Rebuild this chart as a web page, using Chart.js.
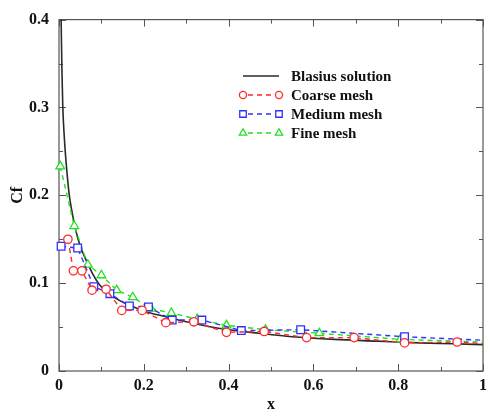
<!DOCTYPE html>
<html><head><meta charset="utf-8">
<script src="https://cdn.jsdelivr.net/npm/chart.js@4.4.0/dist/chart.umd.min.js"></script>
<style>html,body{margin:0;padding:0;background:#fff;}#wrap{width:492px;height:414px;}</style>
</head><body><div id="wrap"><canvas id="c" width="492" height="414"></canvas></div>
<script>
// ---- data ----
const blasiusX = [0.005, 0.007, 0.009, 0.012, 0.015, 0.019, 0.024, 0.030, 0.036, 0.045, 0.055, 0.067, 0.080, 0.096, 0.115, 0.140, 0.170, 0.210, 0.250, 0.300, 0.350, 0.400, 0.470, 0.550, 0.650, 0.750, 0.850, 0.930, 1.000];
const blasiusY = [0.400, 0.340, 0.300, 0.270, 0.248, 0.225, 0.201, 0.183, 0.168, 0.150, 0.136, 0.123, 0.110, 0.098, 0.089, 0.081, 0.074, 0.067, 0.062, 0.056, 0.051, 0.047, 0.043, 0.039, 0.036, 0.034, 0.032, 0.031, 0.030];

const coarseX = [0.021, 0.034, 0.054, 0.078, 0.111, 0.148, 0.196, 0.252, 0.318, 0.395, 0.484, 0.584, 0.696, 0.815, 0.939, 1.000];
const coarseY = [0.150, 0.114, 0.114, 0.092, 0.093, 0.069, 0.069, 0.055, 0.056, 0.044, 0.045, 0.038, 0.038, 0.032, 0.033, 0.031];

const mediumX = [0.005, 0.044, 0.082, 0.120, 0.166, 0.211, 0.267, 0.337, 0.430, 0.570, 0.815, 1.000];
const mediumY = [0.142, 0.140, 0.096, 0.088, 0.074, 0.073, 0.058, 0.058, 0.046, 0.047, 0.039, 0.035];

const fineX = [0.003, 0.036, 0.068, 0.100, 0.136, 0.174, 0.217, 0.265, 0.326, 0.395, 0.487, 0.614, 0.805, 1.000];
const fineY = [0.233, 0.165, 0.121, 0.109, 0.092, 0.084, 0.071, 0.066, 0.059, 0.052, 0.047, 0.043, 0.036, 0.033];

const seriesNames = ['Blasius solution', 'Coarse mesh', 'Medium mesh', 'Fine mesh'];
const xTickValues = [0, 0.2, 0.4, 0.6, 0.8, 1.0];
const xTickLabels = ['0', '0.2', '0.4', '0.6', '0.8', '1'];
const yTickValues = [0, 0.1, 0.2, 0.3, 0.4];
const yTickLabels = ['0', '0.1', '0.2', '0.3', '0.4'];
const xTitle = 'x';
const yTitle = 'Cf';

// ---- build ----
const pts = (xs, ys) => xs.map((x, i) => ({x: x, y: ys[i]}));
const FONT = 'Liberation Serif';
const hideLast = n => ctx => (ctx.dataIndex === n - 1 ? 0 : undefined);

function meshSet(label, xs, ys, color, style, radius) {
  const n = xs.length;
  return {
    label: label,
    data: pts(xs, ys),
    showLine: true,
    borderColor: color,
    borderWidth: 1.4,
    borderDash: [5, 4],
    pointStyle: style,
    pointRadius: ctx => (ctx.dataIndex === n - 1 ? 0 : radius),
    pointHoverRadius: 0,
    pointBorderColor: color,
    pointBackgroundColor: '#ffffff',
    pointBorderWidth: 1.3,
    tension: 0,
    clip: false,
    order: 1
  };
}

const datasets = [
  {
    label: seriesNames[0],
    data: pts(blasiusX, blasiusY),
    showLine: true,
    borderColor: '#2a2a2a',
    borderWidth: 1.6,
    pointRadius: 0,
    cubicInterpolationMode: 'monotone',
    order: 5
  },
  meshSet(seriesNames[1], coarseX, coarseY, '#ff2a2a', 'circle', 4.2),
  meshSet(seriesNames[2], mediumX, mediumY, '#2f2fff', 'rect', 5.4),
  meshSet(seriesNames[3], fineX, fineY, '#22e022', 'triangle', 5.0)
];

const frameTicks = {
  id: 'frameTicks',
  beforeDatasetsDraw(chart) {
    const {ctx, chartArea: a, scales: {x, y}} = chart;
    ctx.save();
    ctx.strokeStyle = '#555';
    ctx.lineWidth = 1.2;
    ctx.strokeRect(a.left, a.top, a.right - a.left, a.bottom - a.top);
    ctx.lineWidth = 1;
    ctx.beginPath();
    for (let k = 0; k <= 10; k++) {
      const v = k / 10;
      const px = Math.round(x.getPixelForValue(v)) + 0.5;
      const len = (k % 2 === 0) ? 7 : 4;
      ctx.moveTo(px, a.bottom); ctx.lineTo(px, a.bottom - len);
      ctx.moveTo(px, a.top); ctx.lineTo(px, a.top + len);
    }
    for (let k = 0; k <= 8; k++) {
      const v = k * 0.05;
      const py = Math.round(y.getPixelForValue(v)) + 0.5;
      const len = (k % 2 === 0) ? 7 : 4;
      ctx.moveTo(a.left, py); ctx.lineTo(a.left + len, py);
      ctx.moveTo(a.right, py); ctx.lineTo(a.right - len, py);
    }
    ctx.stroke();
    ctx.restore();
  }
};

const insideLegend = {
  id: 'insideLegend',
  afterDraw(chart) {
    const {ctx} = chart;
    const x1 = 243, x2 = 279, tx = 291;
    const rows = [76, 95, 114, 133];
    ctx.save();
    chart.data.datasets.forEach((ds, i) => {
      const yy = rows[i];
      ctx.strokeStyle = ds.borderColor;
      ctx.lineWidth = ds.borderWidth;
      ctx.setLineDash(ds.borderDash || []);
      ctx.beginPath();
      if (i === 0) { ctx.moveTo(x1, yy); ctx.lineTo(x2, yy); }
      else { ctx.moveTo(x1 + 5, yy); ctx.lineTo(x2 - 5, yy); }
      ctx.stroke();
      ctx.setLineDash([]);
      if (i > 0) {
        const r = (typeof ds.pointRadius === 'function') ? ds.pointRadius({dataIndex: 0}) : ds.pointRadius;
        const opts = {pointStyle: ds.pointStyle, radius: r * 0.85, borderWidth: ds.pointBorderWidth, rotation: 0};
        ctx.fillStyle = '#ffffff';
        ctx.strokeStyle = ds.pointBorderColor;
        ctx.lineWidth = ds.pointBorderWidth;
        Chart.helpers.drawPoint(ctx, opts, x1, yy);
        Chart.helpers.drawPoint(ctx, opts, x2, yy);
      }
      ctx.fillStyle = '#111';
      ctx.font = 'bold 15px "' + FONT + '"';
      ctx.textAlign = 'left';
      ctx.textBaseline = 'middle';
      ctx.fillText(ds.label, tx, yy + 1);
    });
    ctx.restore();
  }
};

new Chart(document.getElementById('c'), {
  type: 'scatter',
  data: {datasets: datasets},
  options: {
    responsive: false,
    animation: false,
    devicePixelRatio: 1,
    layout: {padding: {top: 14, right: 4, left: 0, bottom: 0}},
    plugins: {legend: {display: false}, tooltip: {enabled: false}},
    scales: {
      x: {
        type: 'linear', min: 0, max: 1,
        grid: {display: false, drawTicks: false},
        border: {display: false},
        afterBuildTicks: s => { s.ticks = xTickValues.map(v => ({value: v})); },
        afterFit: s => { s.height = 43; },
        ticks: {
          color: '#111', padding: 5, maxRotation: 0,
          font: {family: FONT, weight: 'bold', size: 16},
          callback: (v, i) => xTickLabels[i]
        },
        title: {display: true, text: xTitle, color: '#111', padding: {top: 0, bottom: 0},
          font: {family: FONT, weight: 'bold', size: 16}}
      },
      y: {
        type: 'linear', min: 0, max: 0.4,
        grid: {display: false, drawTicks: false},
        border: {display: false},
        afterBuildTicks: s => { s.ticks = yTickValues.map(v => ({value: v})); },
        afterFit: s => { s.width = 59; },
        ticks: {
          color: '#111', padding: 10,
          font: {family: FONT, weight: 'bold', size: 16},
          callback: (v, i) => yTickLabels[i]
        },
        title: {display: true, text: yTitle, color: '#111', padding: {top: 8, bottom: 0},
          font: {family: FONT, weight: 'bold', size: 16}}
      }
    }
  },
  plugins: [frameTicks, insideLegend]
});
</script>
</body></html>
